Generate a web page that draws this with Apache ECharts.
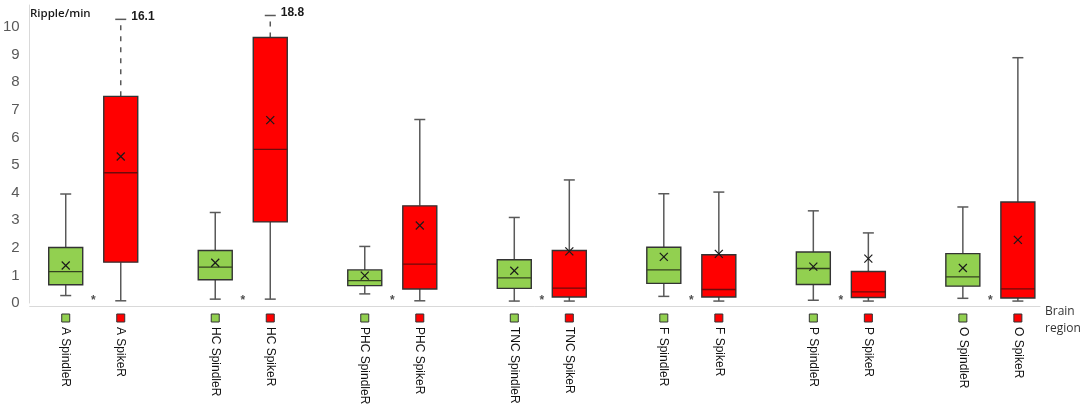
<!DOCTYPE html>
<html style="height: 100%">
<head>
 <meta charset="utf-8">
 <title>Ripple rate by brain region</title>
</head>
<body style="height: 100%; margin: 0; background: #fff">
 <div id="container" style="width: 1084px; height: 407px"></div>
 <script src="https://cdn.jsdelivr.net/npm/echarts@6/dist/echarts.min.js"></script>
 <script>
// brain regions, one pair of boxes each
var regions = ['A', 'HC', 'PHC', 'TNC', 'F', 'P', 'O'];
var methods = ['SpindleR', 'SpikeR'];

// [min, q1, median, q3, max] in ripples per minute (max as drawn on the axis)
var spindleBox = [
    [0.27, 0.66, 1.14, 2.01, 3.95],
    [0.14, 0.84, 1.30, 1.90, 3.28],
    [0.33, 0.63, 0.81, 1.20, 2.05],
    [0.07, 0.53, 0.91, 1.57, 3.10],
    [0.24, 0.71, 1.20, 2.02, 3.96],
    [0.10, 0.67, 1.25, 1.85, 3.34],
    [0.17, 0.61, 0.95, 1.79, 3.48]
];
var spindleMean = [1.36, 1.46, 0.99, 1.17, 1.67, 1.32, 1.27];

var spikeBox = [
    [0.08, 1.48, 4.72, 7.49, 10.28],
    [0.14, 2.94, 5.57, 9.62, 10.42],
    [0.08, 0.51, 1.41, 3.52, 6.65],
    [0.07, 0.22, 0.54, 1.90, 4.46],
    [0.07, 0.22, 0.49, 1.75, 4.02],
    [0.07, 0.20, 0.40, 1.14, 2.54],
    [0.07, 0.18, 0.51, 3.66, 8.89]
];
var spikeMean = [5.31, 6.63, 2.81, 1.87, 1.78, 1.61, 2.29];
// real maximum where the whisker runs off the scale
var spikeTrueMax = [16.1, 18.8, null, null, null, null, null];

// significance mark between the two boxes of each region
var sigMarks = ['*', '*', '*', '*', '*', '*', '*'];

var yTicks = [0, 1, 2, 3, 4, 5, 6, 7, 8, 9, 10];

var colors = { SpindleR: '#92d050', SpikeR: '#ff0000' };
var medianColors = { SpindleR: '#34431f', SpikeR: '#6e0a0a' };
var pairHalfGap = 0.184;   // half distance between the boxes of a pair, in region units

function makeData(box, mean, trueMax) {
    return regions.map(function (r, i) {
        return [i].concat(box[i], [mean[i], trueMax ? trueMax[i] : null]);
    });
}

function boxItem(method, side) {
    return function (params, api) {
        var idx = api.value(0);
        var x = api.coord([idx + side * pairHalfGap, 0])[0];
        var yOf = function (v) { return api.coord([idx, v])[1]; };
        var y0 = yOf(0) + 3;
        var yMin = yOf(api.value(1)), yQ1 = yOf(api.value(2)), yMed = yOf(api.value(3));
        var yQ3 = yOf(api.value(4)), yMax = yOf(api.value(5)), yMean = yOf(api.value(6));
        var trueMax = api.value(7);
        var hw = 17, cw = 5.5, mk = 4;
        var whisker = { stroke: '#595959', lineWidth: 1.5 };
        var offScale = trueMax != null && !isNaN(trueMax);
        var children = [
            { type: 'line', shape: { x1: x, y1: yQ1, x2: x, y2: yMin }, style: whisker },
            { type: 'line', shape: { x1: x - cw, y1: yMin, x2: x + cw, y2: yMin }, style: whisker },
            { type: 'line', shape: { x1: x, y1: yQ3, x2: x, y2: yMax },
              style: { stroke: '#595959', lineWidth: 1.5, lineDash: offScale ? [5, 6] : null } },
            { type: 'line', shape: { x1: x - cw, y1: yMax, x2: x + cw, y2: yMax }, style: whisker },
            { type: 'rect', shape: { x: x - hw, y: yQ3, width: hw * 2, height: yQ1 - yQ3 },
              style: { fill: colors[method], stroke: '#333', lineWidth: 1.4 } },
            { type: 'line', shape: { x1: x - hw, y1: yMed, x2: x + hw, y2: yMed },
              style: { stroke: medianColors[method], lineWidth: 1.3 } },
            { type: 'line', shape: { x1: x - mk, y1: yMean - mk, x2: x + mk, y2: yMean + mk },
              style: { stroke: '#1a1a1a', lineWidth: 1.2 } },
            { type: 'line', shape: { x1: x - mk, y1: yMean + mk, x2: x + mk, y2: yMean - mk },
              style: { stroke: '#1a1a1a', lineWidth: 1.2 } },
            // category label: coloured key square and rotated name
            { type: 'rect', shape: { x: x - 4, y: y0 + 8, width: 8, height: 8 },
              style: { fill: colors[method], stroke: '#333', lineWidth: 1 } },
            { type: 'text', x: x, y: y0 + 21, rotation: -Math.PI / 2,
              style: { text: regions[idx] + ' ' + method, fill: '#111',
                       font: '12px "Liberation Sans", Arial, sans-serif',
                       align: 'left', verticalAlign: 'middle' } }
        ];
        if (offScale) {
            children.push({ type: 'text', x: x + cw + 5, y: yMax - 3,
                style: { text: String(trueMax), fill: '#1a1a1a',
                         font: 'bold 12px "Liberation Sans", Arial, sans-serif',
                         align: 'left', verticalAlign: 'middle' } });
        }
        return { type: 'group', children: children };
    };
}

var chart = echarts.init(document.getElementById('container'));
chart.setOption({
    animation: false,
    grid: { left: 26, right: 44, top: 5, bottom: 104 },
    xAxis: {
        type: 'value', min: -0.425, max: 6.332, offset: 3,
        axisLine: { onZero: false, lineStyle: { color: '#d9d9d9', width: 1 } },
        axisTick: { show: false }, axisLabel: { show: false }, splitLine: { show: false }
    },
    yAxis: {
        type: 'value', min: 0, max: 10.8, interval: 1,
        axisLine: { show: true, onZero: false, lineStyle: { color: '#d9d9d9', width: 1 } },
        axisTick: { show: false }, splitLine: { show: false },
        axisLabel: {
            margin: 10, color: '#595959', fontSize: 15,
            fontFamily: '"Liberation Sans", Arial, sans-serif',
            formatter: function (v) { return yTicks.indexOf(v) >= 0 ? String(v) : ''; }
        }
    },
    graphic: [
        { type: 'text', left: 30, top: 8,
          style: { text: 'Ripple/min', fill: '#1a1a1a', font: '600 11.5px "Open Sans", sans-serif' } },
        { type: 'text', left: 1045, top: 303,
          style: { text: 'Brain\nregion', fill: '#333', lineHeight: 17,
                   font: '12px "Open Sans", sans-serif' } }
    ],
    series: [
        { type: 'custom', name: methods[0], renderItem: boxItem('SpindleR', -1),
          encode: { x: 0, y: [1, 2, 3, 4, 5] }, data: makeData(spindleBox, spindleMean, null) },
        { type: 'custom', name: methods[1], renderItem: boxItem('SpikeR', 1),
          encode: { x: 0, y: [1, 2, 3, 4, 5] }, data: makeData(spikeBox, spikeMean, spikeTrueMax) },
        { type: 'scatter', symbolSize: 0,
          data: sigMarks.map(function (m, i) { return [i, 0.1, m]; }),
          label: { show: true, position: 'inside', color: '#222', fontSize: 12, fontWeight: 'bold',
                   fontFamily: '"Liberation Sans", Arial, sans-serif',
                   formatter: function (p) { return p.value[2]; } } }
    ]
});
 </script>
</body>
</html>
